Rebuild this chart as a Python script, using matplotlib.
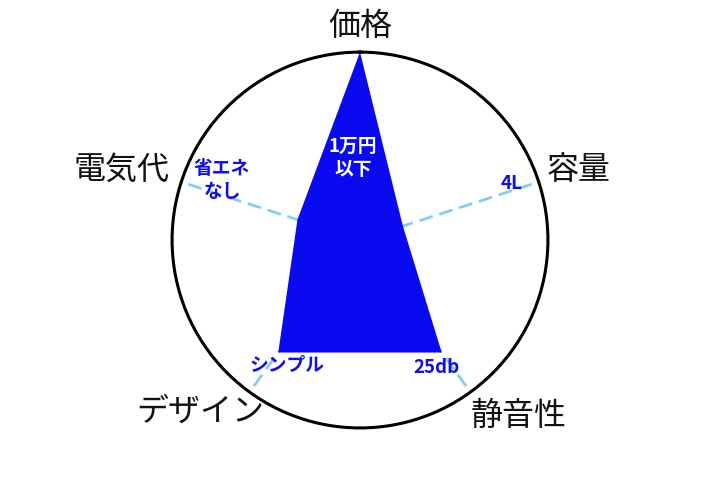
import numpy as np
import matplotlib
matplotlib.use('Agg')
from matplotlib import pyplot as plt

plt.rcParams['font.family'] = ['Noto Sans CJK JP', 'DejaVu Sans']

# 軸ラベル（時計回り、上から）
ejes = ['価格', '容量', '静音性', 'デザイン', '電気代']
valores = [1.0, 0.24, 0.74, 0.74, 0.35]
etiquetas = ['1万円\n以下', '4L', '25db', 'シンプル', '省エネ\nなし']

# テキスト位置 (角度[度、時計回り], 半径)
pos_ejes = [(0, 1.14), (72.2, 1.22), (138, 1.26), (223, 1.25), (286.4, 1.32)]
pos_etiq = [(355, 0.44), (69.4, 0.86), (149, 0.79), (210.3, 0.77), (293.5, 0.80)]

angulos = np.deg2rad(np.arange(len(ejes)) * 72)

fig = plt.figure(figsize=(7.2, 4.8), dpi=100)
ax = fig.add_axes([0.5 - 0.261, 0.5 - 0.3917, 0.522, 0.7833], projection='polar')
ax.set_theta_offset(np.pi / 2)
ax.set_theta_direction(-1)
ax.set_ylim(0, 1)
ax.grid(False)
ax.set_xticks([])
ax.set_yticks([])
ax.spines['polar'].set_linewidth(2.2)
ax.spines['polar'].set_color('black')

# 破線の軸
for a in angulos:
    ax.plot([a, a], [0, 1], color='#86cdf0', lw=2, dashes=(5, 2.5), zorder=1)

# 塗りつぶしポリゴン
th = np.append(angulos, angulos[0])
vv = np.append(valores, valores[0])
ax.fill(th, vv, color='#0a0af0', zorder=2, lw=0)

for texto, (t, r) in zip(ejes, pos_ejes):
    ax.text(np.deg2rad(t), r, texto, fontsize=23, ha='center', va='center',
            color='#111111', clip_on=False)

for i, (texto, (t, r)) in enumerate(zip(etiquetas, pos_etiq)):
    col = 'white' if i == 0 else '#1010e0'
    ax.text(np.deg2rad(t), r, texto, fontsize=13.5, ha='center', va='center',
            color=col, fontweight='bold', linespacing=1.3, zorder=3)

plt.savefig('out.png', dpi=100)
